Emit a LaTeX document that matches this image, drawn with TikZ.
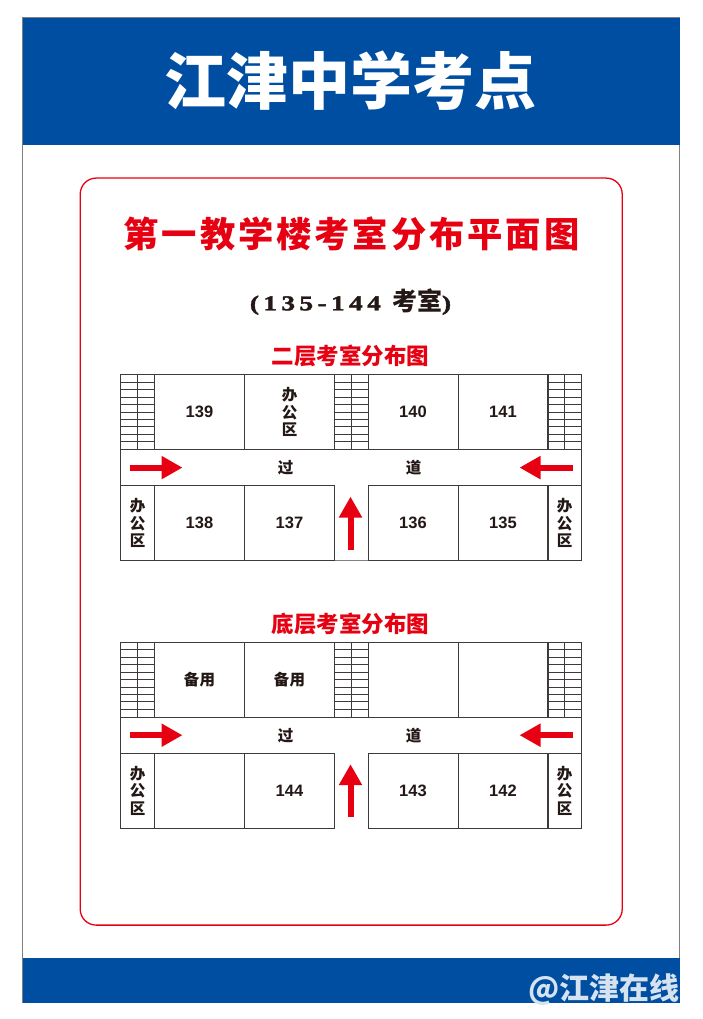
\documentclass[tikz,border=0pt]{standalone}
\usepackage{fontspec}
\usetikzlibrary{arrows.meta}
\setmainfont{Noto Sans CJK SC}
\newfontfamily\cjk{Noto Sans CJK SC}
\newfontfamily\cjkwide[LetterSpace=8.3]{Noto Sans CJK SC}
\newfontfamily\cjknum[LetterSpace=3]{Noto Sans CJK SC}
\newfontfamily\arialnum[LetterSpace=1]{Liberation Sans}
\newfontfamily\serifnum[LetterSpace=21,FakeStretch=1.3,FakeBold=2]{Liberation Serif}
\definecolor{bandblue}{HTML}{004EA2}
\definecolor{signred}{HTML}{E60012}
\definecolor{wallgray}{HTML}{3E3A39}
\definecolor{inkdark}{HTML}{231815}
\definecolor{markwhite}{HTML}{D5E2EF}
\tikzset{
    room/.style={draw=wallgray, line width=0.9pt, outer sep=0pt, minimum width=90pt, minimum height=75pt, inner sep=0pt, text=inkdark, align=center, font=\fontsize{15.5}{17.5}\selectfont\cjknum\bfseries},
    numroom/.style={room, font=\fontsize{16.5}{18}\selectfont\arialnum\bfseries},
    sideroom/.style={room, minimum width=34pt},
    wall/.style={draw=wallgray, line width=0.9pt},
    flow/.style={draw=signred, line width=6pt, -{Triangle[length=21pt,width=22pt]}},
    heading/.style={text=signred, inner sep=0pt, font=\fontsize{22.5}{26}\selectfont\cjk\bfseries}
}
\newcommand{\stairlines}[1]{
    \draw [wall] (#1.north) -- (#1.south);
    \foreach \y in {7.5,15,22.5,30,37.5,45,52,59.5,67}
        \draw [wall] ([yshift=-\y pt]#1.north west) -- ([yshift=-\y pt]#1.north east);
}
\begin{document}
\begin{tikzpicture}[x=1pt,y=-1pt]
    \useasboundingbox (0.5,0.4) rectangle (703.5,1019.4);
    % Page and bands
    \node [draw=gray, line width=0.8pt, fill=white, outer sep=0pt, minimum width=657pt, minimum height=985pt, inner sep=0pt] (page) at (351.5,510.5) {};
    \node [fill=bandblue, minimum width=657pt, minimum height=127pt, inner sep=0pt] (topband) at (351.5,81.5) {};
    \node [fill=bandblue, minimum width=657pt, minimum height=45pt, inner sep=0pt] (bottomband) at (351.5,980.5) {};
    \node [text=white, font=\fontsize{62}{70}\selectfont\cjk\bfseries] (title) at (350.5,81) {江津中学考点};
    \node [text=markwhite, anchor=east, inner sep=0pt, font=\fontsize{30}{32}\selectfont\cjk\bfseries] (mark) at (680.5,990) {@江津在线};

    % Red frame
    \node [draw=signred, line width=1.3pt, rounded corners=16pt, minimum width=542pt, minimum height=747pt, inner sep=0pt] (frame) at (351.7,552) {};
    \node [text=signred, inner sep=0pt, font=\fontsize{35.3}{40}\selectfont\cjkwide\bfseries] (sheet) at (352,234) {第一教学楼考室分布平面图};
    \node [text=inkdark, inner sep=0pt, font=\fontsize{21}{24}\selectfont] (range) at (351,302) {{\serifnum\bfseries (135-144 }{\cjk\bfseries\fontsize{25}{24}\selectfont 考室}{\serifnum\bfseries )}};

    % Upper floor
    \node [heading] (upname) at (351,356) {二层考室分布图};
    \begin{scope}[name prefix=up-]
        \node [sideroom] (stairA) at (138,412.5) {};
        \node [numroom] (r139) at (200,412.5) {139};
        \node [room] (office) at (290,412.5) {办\\公\\区};
        \node [sideroom, minimum width=33.5pt] (stairB) at (351.75,412.5) {};
        \node [numroom] (r140) at (413.5,412.5) {140};
        \node [numroom] (r141) at (503.5,412.5) {141};
        \node [sideroom] (stairC) at (565,412.5) {};
        \node [sideroom] (officeL) at (138,523.5) {办\\公\\区};
        \node [numroom] (r138) at (200,523.5) {138};
        \node [numroom] (r137) at (290,523.5) {137};
        \node [numroom] (r136) at (413.5,523.5) {136};
        \node [numroom] (r135) at (503.5,523.5) {135};
        \node [sideroom] (officeR) at (565,523.5) {办\\公\\区};

        % Stairs
        \foreach \s in {stairA,stairB,stairC} {\stairlines{\s}}

        % Corridor
        \draw [wall] (stairA.south west) -- (officeL.north west);
        \draw [wall] (stairC.south east) -- (officeR.north east);
        \draw [draw=gray, line width=0.9pt] (r137.south east) -- (r136.south west);
        \node [room, draw=none, minimum width=0pt, minimum height=0pt] (passL) at (286,468) {过};
        \node [room, draw=none, minimum width=0pt, minimum height=0pt] (passR) at (414,468) {道};

        % Arrows
        \coordinate (inL) at (130,468);
        \coordinate (tipL) at (183,468);
        \coordinate (inR) at (573,468);
        \coordinate (tipR) at (520,468);
        \coordinate (inB) at (351,550);
        \coordinate (tipB) at (351,497);
        \draw [flow] (inL) -- (tipL);
        \draw [flow] (inR) -- (tipR);
        \draw [flow] (inB) -- (tipB);
    \end{scope}

    % Ground floor
    \node [heading] (lowname) at (351,624) {底层考室分布图};
    \begin{scope}[yshift=-267.6pt, name prefix=low-]
        \node [sideroom] (stairA) at (138,412.5) {};
        \node [room] (spareA) at (200,412.5) {备用};
        \node [room] (spareB) at (290,412.5) {备用};
        \node [sideroom, minimum width=33.5pt] (stairB) at (351.75,412.5) {};
        \node [room] (emptyA) at (413.5,412.5) {};
        \node [room] (emptyB) at (503.5,412.5) {};
        \node [sideroom] (stairC) at (565,412.5) {};
        \node [sideroom] (officeL) at (138,523.5) {办\\公\\区};
        \node [room] (emptyC) at (200,523.5) {};
        \node [numroom] (r144) at (290,523.5) {144};
        \node [numroom] (r143) at (413.5,523.5) {143};
        \node [numroom] (r142) at (503.5,523.5) {142};
        \node [sideroom] (officeR) at (565,523.5) {办\\公\\区};

        % Stairs
        \foreach \s in {stairA,stairB,stairC} {\stairlines{\s}}

        % Corridor
        \draw [wall] (stairA.south west) -- (officeL.north west);
        \draw [wall] (stairC.south east) -- (officeR.north east);
        \node [room, draw=none, minimum width=0pt, minimum height=0pt] (passL) at (286,468) {过};
        \node [room, draw=none, minimum width=0pt, minimum height=0pt] (passR) at (414,468) {道};

        % Arrows
        \coordinate (inL) at (130,468);
        \coordinate (tipL) at (183,468);
        \coordinate (inR) at (573,468);
        \coordinate (tipR) at (520,468);
        \coordinate (inB) at (351,550);
        \coordinate (tipB) at (351,497);
        \draw [flow] (inL) -- (tipL);
        \draw [flow] (inR) -- (tipR);
        \draw [flow] (inB) -- (tipB);
    \end{scope}
\end{tikzpicture}
\end{document}
